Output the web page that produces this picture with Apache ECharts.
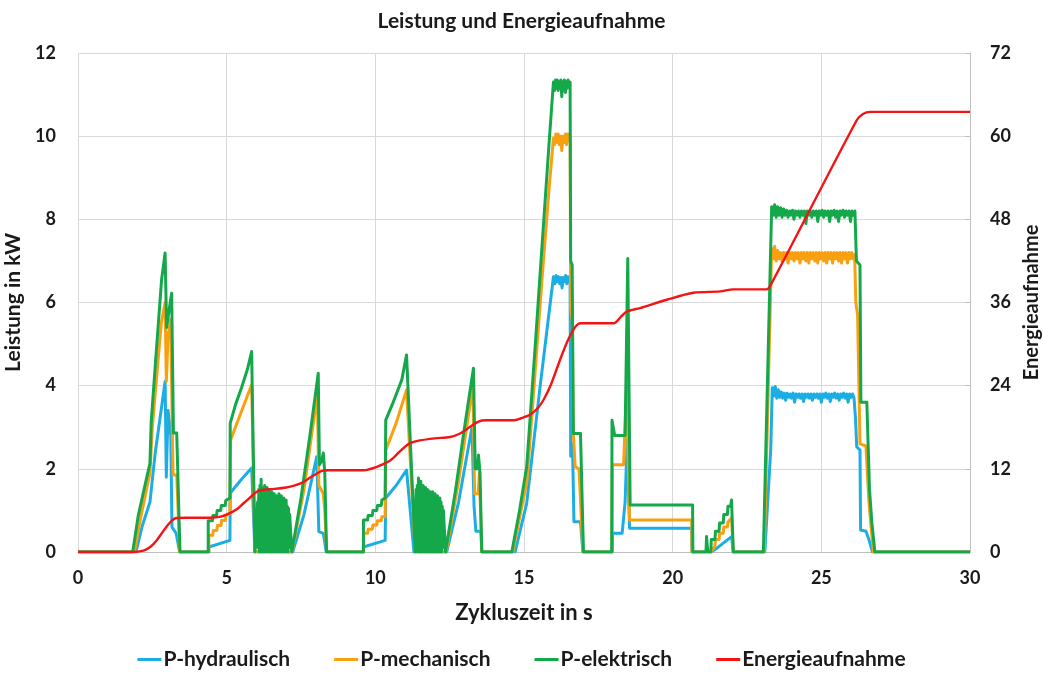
<!DOCTYPE html>
<html>
<head>
<meta charset="utf-8">
<script src="https://cdn.jsdelivr.net/npm/echarts@6/dist/echarts.min.js"></script>
<style>
html,body{margin:0;padding:0;background:#fff;}
#chart{width:1043px;height:675px;}
</style>
</head>
<body>
<div id="chart"></div>
<script>
var seriesNames = ['P-hydraulisch', 'P-mechanisch', 'P-elektrisch', 'Energieaufnahme'];
var seriesColors = ['#1CADE4', '#F8A00F', '#14A84B', '#F41414'];

// [Zykluszeit in s, Leistung in kW]
var pHydraulisch = [
	[0,0],[1.95,0],[2.15,0.6],[2.42,1.2],[2.6,2.4],[2.93,4.1],[2.97,1.8],[3.03,3.4],[3.12,2.8],[3.16,0.6],[3.3,0.45],[3.42,0],
	[4.4,0],[4.4,0.12],[5.11,0.28],[5.12,1.42],[5.5,1.75],[5.84,2.02],[5.95,0],
	[7.22,0],[7.6,0.9],[8.03,2.29],[8.1,0.49],[8.25,0.45],[8.35,0],
	[9.6,0],[9.6,0.12],[10.33,0.28],[10.35,1.3],[10.7,1.6],[11.05,1.97],[11.3,0],
	[12.4,0],[12.8,1.2],[13.25,3.0],[13.32,1.1],[13.38,0.5],[13.55,0.5],[13.58,0],
	[14.7,0],[15.09,1.17],[15.54,3.97],[15.8,5.5],[15.99,6.62],
	[16.04,6.45],[16.08,6.65],[16.12,6.5],[16.16,6.62],[16.2,6.45],[16.24,6.6],[16.28,6.35],[16.32,6.6],[16.36,6.5],[16.4,6.65],[16.44,6.45],[16.48,6.62],[16.52,6.5],[16.55,6.55],
	[16.57,2.3],[16.63,2.6],[16.68,0.73],[16.9,0.73],[16.98,0],
	[17.97,0],[17.98,0.45],[18.3,0.45],[18.4,1.2],[18.47,2.7],[18.55,0.57],[20.64,0.57],[20.65,0],
	[21.3,0],[21.5,0.1],[21.98,0.37],[22.04,0],
	[23.1,0],[23.3,2.5],[23.35,3.95],
	[23.4,3.75],[23.45,3.98],[23.5,3.7],[23.55,3.9],[23.6,3.72],[23.65,3.85],[23.7,3.7],[23.75,3.82],[23.8,3.65],[23.85,3.82],
	[23.9,3.72],[23.95,3.8],[24.0,3.7],[24.05,3.82],[24.1,3.6],[24.15,3.8],[24.2,3.72],[24.25,3.8],[24.3,3.7],[24.35,3.8],
	[24.4,3.62],[24.45,3.8],[24.5,3.72],[24.55,3.8],[24.6,3.7],[24.65,3.8],[24.7,3.65],[24.75,3.8],[24.8,3.72],[24.85,3.8],
	[24.9,3.7],[24.95,3.8],[25.0,3.6],[25.05,3.8],[25.1,3.72],[25.15,3.82],[25.2,3.7],[25.25,3.8],[25.3,3.62],[25.35,3.8],
	[25.4,3.72],[25.45,3.82],[25.5,3.7],[25.55,3.8],[25.6,3.65],[25.65,3.8],[25.7,3.72],[25.75,3.82],[25.8,3.7],[25.85,3.8],
	[25.9,3.6],[25.95,3.8],[26.0,3.72],[26.05,3.8],[26.1,3.7],
	[26.15,3.2],[26.19,2.53],[26.3,2.45],[26.32,0.53],[26.5,0.5],[26.6,0.3],[26.72,0],[30,0]
];

var pMechanisch = [
	[0,0],[1.9,0],[2.1,0.8],[2.42,1.9],[2.5,3.0],[2.8,5.5],[2.93,6.0],[2.97,4.1],[3.03,5.2],[3.12,5.6],[3.18,2.5],[3.2,1.85],[3.32,1.85],[3.42,0],
	[4.4,0],[4.4,0.4],[4.53,0.4],[4.55,0.52],[4.67,0.52],[4.69,0.64],[4.81,0.64],[4.83,0.76],[4.96,0.76],[4.98,0.88],[5.11,0.93],[5.13,2.69],[5.4,3.2],[5.84,4.02],[5.95,0],
	[7.2,0],[7.6,1.5],[8.05,3.8],[8.1,1.6],[8.25,1.4],[8.3,1.0],[8.36,0],
	[9.6,0],[9.6,0.45],[9.74,0.45],[9.76,0.55],[9.9,0.55],[9.92,0.65],[10.05,0.65],[10.07,0.75],[10.2,0.75],[10.22,0.85],[10.33,0.85],[10.35,2.45],[10.7,3.1],[11.05,3.9],[11.34,0],
	[12.38,0],[12.8,1.7],[13.28,4.0],[13.34,1.4],[13.46,1.4],[13.5,1.9],[13.58,0],
	[14.62,0],[15.1,1.7],[15.6,6.5],[15.85,8.8],[15.99,9.95],
	[16.03,9.8],[16.07,10.05],[16.11,9.85],[16.15,10.05],[16.19,9.8],[16.23,10.0],[16.27,9.65],[16.31,10.0],[16.35,9.85],[16.39,10.05],[16.43,9.8],[16.47,10.05],[16.51,9.9],[16.55,10.0],
	[16.57,5.9],[16.62,5.6],[16.66,2.85],[16.72,2.05],[16.85,2.0],[16.98,0],
	[17.96,0],[17.97,2.1],[18.35,2.1],[18.45,4.0],[18.55,0.77],[20.64,0.77],[20.65,0],
	[21.3,0],[21.42,0.15],[21.44,0.3],[21.56,0.3],[21.58,0.45],[21.7,0.45],[21.72,0.6],[21.84,0.6],[21.86,0.72],[21.98,0.82],[22.04,0],
	[23.08,0],[23.33,7.3],
	[23.38,7.05],[23.43,7.35],[23.48,7.0],[23.53,7.25],[23.58,7.05],[23.63,7.2],[23.68,7.0],[23.73,7.2],[23.78,7.05],[23.83,7.2],
	[23.88,6.95],[23.93,7.2],[23.98,7.05],[24.03,7.2],[24.08,7.0],[24.13,7.2],[24.18,7.05],[24.23,7.2],[24.28,6.95],[24.33,7.2],
	[24.38,7.05],[24.43,7.2],[24.48,7.0],[24.53,7.2],[24.58,6.95],[24.63,7.2],[24.68,7.05],[24.73,7.2],[24.78,7.0],[24.83,7.2],
	[24.88,6.95],[24.93,7.2],[24.98,7.05],[25.03,7.2],[25.08,7.0],[25.13,7.2],[25.18,6.95],[25.23,7.2],[25.28,7.05],[25.33,7.2],
	[25.38,6.95],[25.43,7.2],[25.48,7.05],[25.53,7.2],[25.58,7.0],[25.63,7.2],[25.68,6.95],[25.73,7.2],[25.78,7.05],[25.83,7.2],
	[25.88,6.95],[25.93,7.2],[25.98,7.05],[26.03,7.2],[26.08,7.05],[26.12,7.15],
	[26.16,6.0],[26.22,5.7],[26.3,2.6],[26.5,2.55],[26.6,1.2],[26.75,0],[30,0]
];

var pElektrisch = [
	[0,0],[1.84,0],[2.02,0.85],[2.25,1.6],[2.42,2.13],[2.46,3.1],[2.6,4.5],[2.81,6.54],[2.93,7.19],[2.98,5.4],[3.06,5.8],[3.15,6.22],[3.21,2.86],[3.32,2.86],[3.43,0],
	[4.38,0],[4.38,0.75],[4.52,0.75],[4.54,0.88],[4.66,0.88],[4.68,1.0],[4.8,1.0],[4.82,1.12],[4.95,1.12],[4.97,1.24],[5.11,1.3],[5.12,3.1],[5.3,3.55],[5.5,3.95],[5.7,4.4],[5.84,4.82],[5.95,0],
	[6.04,1.2],[6.06,0.1],[6.08,1.5],[6.1,0],[6.12,1.6],[6.14,0.1],[6.16,1.75],[6.18,0],[6.2,1.55],[6.22,0.1],[6.24,1.5],[6.26,0],
	[6.28,1.6],[6.3,0.2],[6.32,1.45],[6.34,0],[6.36,1.55],[6.38,0.1],[6.4,1.4],[6.42,0],[6.44,1.5],[6.46,0.2],[6.48,1.35],[6.5,0],
	[6.52,1.45],[6.54,0.1],[6.56,1.3],[6.58,0],[6.6,1.4],[6.62,0.1],[6.64,1.25],[6.66,0],[6.68,1.35],[6.7,0.1],[6.72,1.3],[6.74,0],
	[6.76,1.4],[6.78,0.1],[6.8,1.25],[6.82,0],[6.84,1.35],[6.86,0.1],[6.88,1.2],[6.9,0],[6.92,1.3],[6.94,0.1],[6.96,1.15],[6.98,0],
	[7.0,1.25],[7.02,0.1],[7.04,1.1],[7.06,0],[7.08,1.05],[7.1,0.1],[7.12,0.9],[7.19,0],
	[7.5,1.3],[7.8,2.8],[8.08,4.3],[8.12,2.1],[8.2,2.2],[8.25,2.38],[8.3,1.9],[8.36,0],
	[9.6,0],[9.6,0.77],[9.74,0.77],[9.76,0.88],[9.9,0.88],[9.92,1.0],[10.05,1.0],[10.07,1.12],[10.2,1.12],[10.22,1.25],[10.33,1.3],[10.35,3.17],[10.6,3.6],[10.89,4.14],[11.05,4.74],[11.1,4.7],[11.34,0],
	[11.37,1.5],[11.39,0.1],[11.41,1.6],[11.43,0],[11.45,1.78],[11.47,0.1],[11.49,1.6],[11.51,0],[11.53,1.7],[11.55,0.1],[11.57,1.5],[11.59,0],
	[11.61,1.6],[11.63,0.1],[11.65,1.5],[11.67,0],[11.69,1.55],[11.71,0.1],[11.73,1.45],[11.75,0],[11.77,1.5],[11.79,0.1],[11.81,1.4],[11.83,0],
	[11.85,1.45],[11.87,0.1],[11.89,1.4],[11.91,0],[11.93,1.45],[11.95,0.1],[11.97,1.35],[11.99,0],[12.01,1.4],[12.03,0.1],[12.05,1.3],[12.07,0],
	[12.09,1.35],[12.11,0.1],[12.13,1.25],[12.15,0],[12.17,1.3],[12.19,0.1],[12.21,1.2],[12.23,0],[12.25,1.1],[12.27,0.1],[12.29,1.0],[12.36,0],
	[12.7,1.5],[13.0,3.0],[13.3,4.42],[13.36,2.0],[13.43,2.0],[13.47,2.33],[13.52,1.9],[13.58,0],
	[14.59,0],[14.85,1.0],[15.09,2.05],[15.4,5.2],[15.65,7.82],[15.85,9.9],[15.99,11.3],
	[16.03,11.1],[16.06,11.35],[16.09,11.15],[16.12,11.35],[16.15,11.1],[16.18,11.3],[16.21,11.2],[16.24,11.35],[16.27,10.95],
	[16.3,11.3],[16.33,11.15],[16.36,11.35],[16.39,11.05],[16.42,11.3],[16.45,11.15],[16.48,11.35],[16.52,11.2],[16.55,11.3],
	[16.57,7.0],[16.62,6.9],[16.66,2.85],[16.9,2.85],[17.0,0],
	[17.95,0],[17.96,3.17],[18.05,2.8],[18.4,2.8],[18.49,7.06],[18.57,1.13],[20.67,1.13],[20.68,0],
	[21.12,0],[21.14,0.37],[21.18,0],[21.28,0],[21.3,0.3],[21.42,0.3],[21.44,0.5],[21.56,0.5],[21.58,0.7],[21.7,0.7],[21.72,0.9],[21.84,0.9],[21.86,1.1],[21.95,1.1],[21.98,1.25],[22.04,0],
	[23.05,0],[23.33,8.3],
	[23.38,8.1],[23.43,8.35],[23.48,8.05],[23.53,8.3],[23.58,8.1],[23.63,8.28],[23.68,8.05],[23.73,8.25],[23.78,8.1],[23.83,8.22],
	[23.88,8.05],[23.93,8.2],[23.98,8.1],[24.03,8.22],[24.08,8.0],[24.13,8.2],[24.18,8.1],[24.23,8.2],[24.28,8.05],[24.33,8.2],
	[24.38,8.1],[24.43,8.2],[24.48,7.9],[24.53,8.2],[24.58,8.1],[24.63,8.2],[24.68,8.05],[24.73,8.2],[24.78,8.1],[24.83,8.2],
	[24.88,7.95],[24.93,8.2],[24.98,8.1],[25.03,8.22],[25.08,8.05],[25.13,8.2],[25.18,8.1],[25.23,8.2],[25.28,7.95],[25.33,8.2],
	[25.38,8.1],[25.43,8.22],[25.48,8.05],[25.53,8.2],[25.58,7.95],[25.63,8.2],[25.68,8.1],[25.73,8.22],[25.78,8.05],[25.83,8.2],
	[25.88,8.1],[25.93,8.2],[25.98,7.95],[26.03,8.2],[26.08,8.1],[26.13,8.2],
	[26.18,7.0],[26.3,6.9],[26.33,3.6],[26.53,3.6],[26.62,1.5],[26.7,0.7],[26.8,0],[30,0]
];

// [Zykluszeit in s, Energieaufnahme]
var energieaufnahme = [
	[0,0],[1.8,0],[2.2,0.2],[2.45,0.8],[2.65,1.7],[2.85,2.9],[3.0,3.8],[3.15,4.5],[3.3,4.9],[3.6,4.95],[4.44,4.95],
	[4.8,5.1],[5.11,5.6],[5.35,6.2],[5.56,7.0],[5.8,7.9],[6.01,8.7],[6.2,8.95],[6.46,9.05],[7.0,9.3],[7.36,9.7],
	[7.55,10.0],[7.69,10.4],[7.95,11.1],[8.2,11.7],[8.4,11.8],[9.6,11.8],[10.05,12.3],[10.5,13.2],[10.8,14.4],
	[11.0,15.2],[11.17,15.7],[11.5,16.1],[12.0,16.4],[12.51,16.6],[12.85,17.1],[13.2,18.1],[13.47,18.8],[13.7,19.0],
	[14.64,19.0],[14.9,19.3],[15.2,19.8],[15.45,20.7],[15.65,21.9],[15.9,24.1],[16.21,27.7],[16.45,30.3],[16.6,31.6],
	[16.75,32.6],[16.89,33.0],[18.01,33.0],[18.25,33.9],[18.46,34.7],[18.9,35.2],[19.8,36.4],[20.7,37.4],[21.6,37.6],
	[22.04,37.9],[23.16,37.9],[23.33,38.8],[26.19,62.3],[26.4,63.2],[26.64,63.5],[30,63.5]
];

var chart = echarts.init(document.getElementById('chart'));
var fontFam = 'Lato, "Open Sans", sans-serif';
var gridColor = '#d9d9d9';
var textColor = '#1a1a1a';

function buildSeries(){
	var dataList = [pHydraulisch, pMechanisch, pElektrisch, energieaufnahme];
	var list = [];
	for(var i = 0; i < dataList.length; i++){
		list.push({
			name: seriesNames[i],
			type: 'line',
			yAxisIndex: i == 3 ? 1 : 0,
			data: dataList[i],
			showSymbol: false,
			symbol: 'none',
			smooth: i == 3 ? 0.3 : false,
			sampling: null,
			z: 2 + i,
			lineStyle: {color: seriesColors[i], width: i == 3 ? 2.4 : 3, join: 'round'},
			itemStyle: {color: seriesColors[i]}
		});
	}
	return list;
}

var option = {
	animation: false,
	backgroundColor: '#fff',
	color: seriesColors,
	title: {
		text: 'Leistung und Energieaufnahme',
		left: 'center', top: 6,
		textStyle: {fontFamily: fontFam, fontWeight: 'bold', fontSize: 21, color: textColor}
	},
	grid: {left: 78, right: 73, top: 53, bottom: 123, containLabel: false, outerBoundsMode: 'none'},
	legend: {
		data: seriesNames,
		bottom: 0, left: 'center',
		icon: 'rect', itemWidth: 24, itemHeight: 3, itemGap: 44,
		textStyle: {fontFamily: fontFam, fontWeight: 'bold', fontSize: 21, color: textColor, padding: [0, 0, 0, -3]}
	},
	xAxis: {
		type: 'value', min: 0, max: 30, interval: 5,
		name: 'Zykluszeit in s', nameLocation: 'middle', nameGap: 50,
		nameTextStyle: {fontFamily: fontFam, fontWeight: 'bold', fontSize: 22, color: textColor},
		axisLine: {show: true, lineStyle: {color: '#bfbfbf', width: 1}},
		axisTick: {show: false},
		axisLabel: {fontFamily: fontFam, fontWeight: 'bold', fontSize: 18, color: textColor, margin: 17},
		splitLine: {show: true, lineStyle: {color: gridColor, width: 1}}
	},
	yAxis: [{
		type: 'value', min: 0, max: 12, interval: 2,
		name: 'Leistung in kW', nameLocation: 'middle', nameGap: 44, nameRotate: 90,
		nameTextStyle: {fontFamily: fontFam, fontWeight: 'bold', fontSize: 21, color: textColor},
		axisLine: {show: false},
		axisTick: {show: false},
		axisLabel: {fontFamily: fontFam, fontWeight: 'bold', fontSize: 18, color: textColor, margin: 22},
		splitLine: {show: true, lineStyle: {color: gridColor, width: 1}}
	}, {
		type: 'value', min: 0, max: 72, interval: 12, position: 'right',
		name: 'Energieaufnahme', nameLocation: 'middle', nameGap: 50, nameRotate: 90,
		nameTextStyle: {fontFamily: fontFam, fontWeight: 'bold', fontSize: 20, color: textColor},
		axisLine: {show: true, lineStyle: {color: '#bfbfbf', width: 1}},
		axisTick: {show: true, inside: true, length: 5, lineStyle: {color: '#bfbfbf'}},
		axisLabel: {fontFamily: fontFam, fontWeight: 'bold', fontSize: 18, color: textColor, margin: 20},
		splitLine: {show: false}
	}],
	series: buildSeries()
};
chart.setOption(option);
</script>
</body>
</html>
